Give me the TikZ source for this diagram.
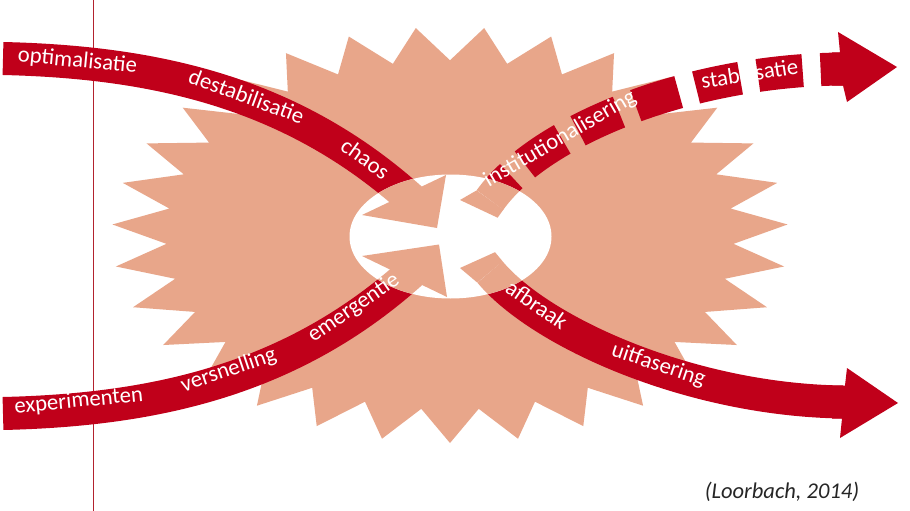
\documentclass[tikz,border=0pt]{standalone}
\usepackage{fontspec}
\setmainfont{Carlito}
\definecolor{bandred}{RGB}{192,0,26}
\definecolor{burst}{RGB}{232,166,138}
\definecolor{vline}{RGB}{178,34,46}
\definecolor{citec}{RGB}{38,38,38}
\tikzset{
  band/.style={line width=33pt},
  lbl/.style={text=white, font=\fontsize{22.7}{27}\selectfont, inner sep=0pt, sloped, text height=14pt, text depth=5pt},
  lblup/.style={lbl, text height=8pt, text depth=12pt},
  lblmid/.style={lbl, text height=11pt, text depth=8pt},
}
\newcommand\arrowset[1]{%
  \draw[band, #1] (a1s) .. controls (a1c) and (a1d) .. (a1e);
  \fill[#1] (362,215) -- (437,228) -- (446,175) -- cycle;
  \draw[band, #1] (a2s) .. controls (a2c) and (a2d) .. (a2e);
  \fill[#1] (362,256) -- (439,244.5) -- (447,297) -- cycle;
  \draw[band, #1, dash pattern=on 45pt off 18pt, dash phase=13pt] (a3s) .. controls (a3c) and (a3d) .. (a3e);
  \fill[#1] (476.6,190.4) -- (460,200) -- (497.6,217.7) -- (503.4,209.6) -- cycle;
  \fill[#1] (832,52.5) -- (840,52.5) -- (838,32) -- (897,67) -- (847,102) -- (843,85.5) -- (832,85.5) -- cycle;
  \draw[band, #1] (a4s) .. controls (a4c) and (a4d) .. (a4e);
  \fill[#1] (477.3,282.6) -- (460,268) -- (495,252.2) -- (502.7,261.4) -- cycle;
  \fill[#1] (832,385.5) -- (845,385.5) -- (847,368) -- (898,403) -- (840,438) -- (842,418.5) -- (832,418.5) -- cycle;
}
\begin{document}
\begin{tikzpicture}[x=1pt,y=-1pt]
\useasboundingbox (0,0) rectangle (910,511);
\fill[white] (0,0) rectangle (910,511);
% thin vertical line
\coordinate (vtop) at (93,0);
\coordinate (vbot) at (93,511);
\draw[vline, line width=0.8pt] (vtop) -- (vbot);
% starburst
\fill[burst] (450,443) \foreach \k in {0,...,30} {
  -- ({450+283.92*sin(185.80645+11.6129*\k)}, {235-174.72*cos(185.80645+11.6129*\k)})
  -- ({450+338*sin(191.6129+11.6129*\k)}, {235-208*cos(191.6129+11.6129*\k)}) } -- cycle;
% arrow geometry
\coordinate (a1s) at (3,58.5);   \coordinate (a1c) at (150,62);
\coordinate (a1d) at (290,90);   \coordinate (a1e) at (412,200);
\coordinate (a2s) at (3,413.5);  \coordinate (a2c) at (150,410);
\coordinate (a2d) at (290,382);  \coordinate (a2e) at (412,272);
\coordinate (a3s) at (490,200);  \coordinate (a3c) at (540,130);
\coordinate (a3d) at (690,70);   \coordinate (a3e) at (843,69);
\coordinate (a4s) at (490,272);  \coordinate (a4c) at (540,332);
\coordinate (a4d) at (690,400);  \coordinate (a4e) at (843,402);
\coordinate (eC) at (450.5,236.5);
% red arrows
\arrowset{bandred}
% white centre
\fill[white] (eC) ellipse [x radius=101pt, y radius=62pt];
% arrow parts inside the centre
\begin{scope}
  \clip (eC) ellipse [x radius=101pt, y radius=62pt];
  \arrowset{burst}
\end{scope}
% labels
\path (a1s) .. controls (a1c) and (a1d) .. (a1e)
  node[lbl, pos=0.17] (w1) {optimalisatie}
  node[lbl, pos=0.57] (w2) {destabilisatie}
  node[lbl, pos=0.87] (w3) {chaos};
\path (a2s) .. controls (a2c) and (a2d) .. (a2e)
  node[lblup, pos=0.175] (w4) {experimenten}
  node[lblup, pos=0.535] (w5) {versnelling}
  node[lblup, pos=0.856] (w6) {emergentie};
\path (a3s) .. controls (a3c) and (a3d) .. (a3e)
  node[lbl, pos=0.305] (w7) {institutionalisering}
  node[lbl, pos=0.795] (w8) {stabilisatie};
\path (a4s) .. controls (a4c) and (a4d) .. (a4e)
  node[lblmid, pos=0.208] (w9) {afbraak}
  node[lblmid, pos=0.575] (w10) {uitfasering};
\node[font=\itshape\fontsize{22.5}{26}\selectfont, text=citec, inner sep=0pt] (cite) at (782,492) {(Loorbach, 2014)};
\end{tikzpicture}
\end{document}
